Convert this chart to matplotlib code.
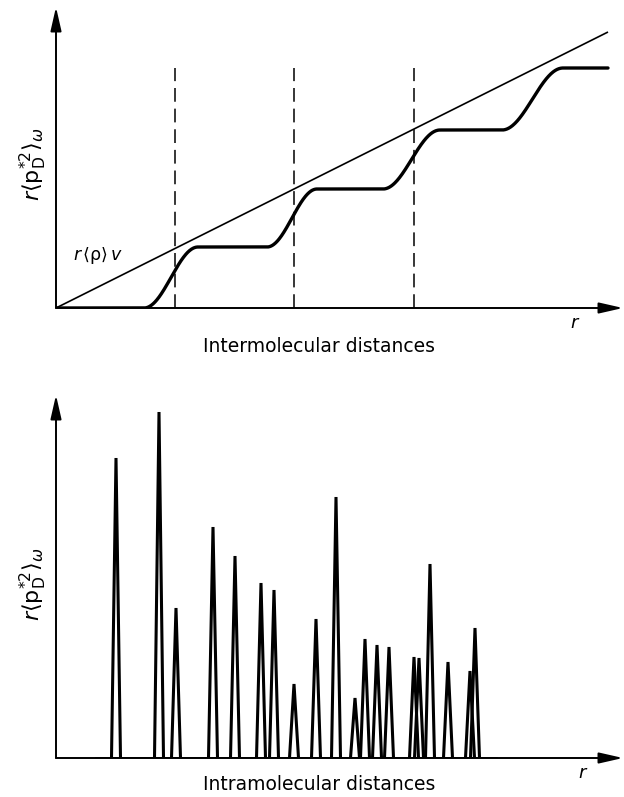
import numpy as np
import matplotlib
matplotlib.use("Agg")
import matplotlib.pyplot as plt

plt.rcParams['mathtext.fontset'] = 'dejavusans'
plt.rcParams['font.family'] = ['DejaVu Sans']

# ---------------- data (arbitrary units) ----------------
# Top panel: intermolecular distances
line_x = [0, 552]              # r<rho>v straight line
line_y = [0, 276]
dash_x = [119, 238, 358]       # dashed reference positions
dash_top = 240
# staircase: transition start/end positions and plateau levels
step_start = [88, 211, 327, 446]
step_end = [142, 261, 384, 507]
step_levels = [0, 61, 119, 178, 240]
stair_xmax = 552

# Bottom panel: intramolecular distances (peak positions and heights)
peak_x = [60, 103, 120, 157, 179, 205, 218, 238, 260, 280,
          299, 309, 321, 333, 358, 363, 374, 392, 414, 419]
peak_h = [300, 346, 150, 231, 202, 175, 168, 74, 139, 261,
          60, 119, 113, 111, 101, 100, 194, 96, 87, 130]
peak_halfwidth = 4.5
base_x = [40, 440]

W, H = 624, 797
fig = plt.figure(figsize=(W / 100, H / 100), dpi=100)

def make_axes(x0, y_origin, y_top, x_tip):
    ax = fig.add_axes([x0 / W, (H - y_origin) / H, (x_tip - x0) / W, (y_origin - y_top) / H])
    ax.set_xlim(0, x_tip - x0)
    ax.set_ylim(0, y_origin - y_top)
    ax.axis('off')
    arrow = dict(arrowstyle='-|>,head_length=1.45,head_width=0.33', mutation_scale=10,
                 lw=1.4, color='black', shrinkA=0, shrinkB=0)
    ax.annotate('', xy=(0, 1), xytext=(0, 0), xycoords='axes fraction',
                textcoords='axes fraction', arrowprops=arrow, annotation_clip=False)
    ax.annotate('', xy=(1, 0), xytext=(0, 0), xycoords='axes fraction',
                textcoords='axes fraction', arrowprops=arrow, annotation_clip=False)
    return ax

ylabel = r'$r\langle \mathrm{p}^{*2}_{\mathrm{D}}\rangle_{\omega}$'

# ---------------- top panel ----------------
ax1 = make_axes(56, 308, 7, 623)
ax1.plot(line_x, line_y, color='black', lw=1.2, solid_capstyle='butt')
for dx in dash_x:
    ax1.plot([dx, dx], [0, dash_top], color='black', lw=1.1, dashes=(9, 4.5))

xs = np.linspace(0, stair_xmax, 1200)
ys = np.full_like(xs, step_levels[0], dtype=float)
for i, (s, e) in enumerate(zip(step_start, step_end)):
    lo, hi = step_levels[i], step_levels[i + 1]
    t = np.clip((xs - s) / (e - s), 0, 1)
    ys = np.where(xs >= s, lo + (hi - lo) * (0.5 - 0.5 * np.cos(np.pi * t)), ys)
ax1.plot(xs, ys, color='black', lw=2.4, solid_capstyle='round')

ax1.text(42, 52, r'$r\,\langle$ρ$\rangle\, v$', fontsize=12.5, ha='center', va='center')
ax1.text(519, -15, r'$r$', fontsize=13, ha='center', va='center')
fig.text(319 / W, 1 - 346 / H, 'Intermolecular distances', fontsize=13.5,
         ha='center', va='center')
fig.text(33 / W, 1 - 164 / H, ylabel, fontsize=16, rotation=90, ha='center', va='center')

# ---------------- bottom panel ----------------
ax2 = make_axes(56, 758, 395, 623)
ax2.plot(base_x, [0, 0], color='black', lw=2.0)
for px, ph in zip(peak_x, peak_h):
    ax2.plot([px - peak_halfwidth, px, px + peak_halfwidth], [0, ph, 0],
             color='black', lw=2.2, solid_joinstyle='miter')

ax2.text(527, -15, r'$r$', fontsize=13, ha='center', va='center')
fig.text(319 / W, 1 - 785 / H, 'Intramolecular distances', fontsize=13.5,
         ha='center', va='center')
fig.text(33 / W, 1 - 584 / H, ylabel, fontsize=16, rotation=90, ha='center', va='center')

fig.savefig('out.png', dpi=100)
